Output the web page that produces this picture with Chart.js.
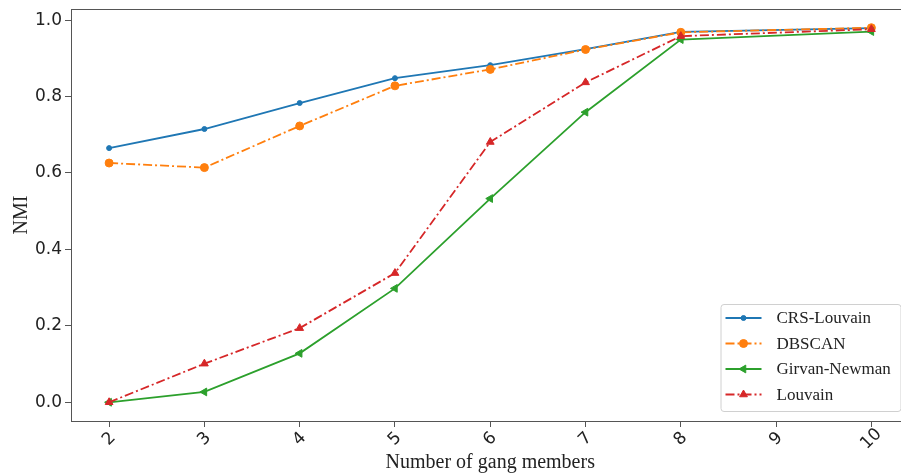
<!DOCTYPE html>
<html>
<head>
<meta charset="utf-8">
<script src="https://cdn.jsdelivr.net/npm/chart.js@4.4.1/dist/chart.umd.min.js"></script>
<style>
  html, body { margin: 0; padding: 0; background: #fff; }
  #wrap { width: 901px; height: 475px; overflow: hidden; position: relative; }
  #nmi-chart { display: block; }
</style>
</head>
<body>
<div id="wrap"><canvas id="nmi-chart" width="915" height="475"></canvas></div>
<script>
// gang sizes that were evaluated (no run at 9)
const gangSizes = [2, 3, 4, 5, 6, 7, 8, 10];
const crsLouvain = [0.665, 0.715, 0.783, 0.848, 0.882, 0.924, 0.969, 0.979];
const dbscan = [0.626, 0.614, 0.723, 0.828, 0.871, 0.923, 0.968, 0.980];
const girvanNewman = [0.0, 0.027, 0.128, 0.298, 0.533, 0.759, 0.949, 0.970];
const louvain = [0.0, 0.101, 0.194, 0.338, 0.681, 0.837, 0.958, 0.976];

const xTicks = [2, 3, 4, 5, 6, 7, 8, 9, 10];
const yTicks = [0.0, 0.2, 0.4, 0.6, 0.8, 1.0];

const toPoints = (ys) => gangSizes.map((x, i) => ({ x: x, y: ys[i] }));
const dashDot = [9, 3, 2, 3];

const series = [
  { label: "CRS-Louvain", data: crsLouvain, color: "#1f77b4", dash: [], style: "circle", radius: 2.5, rotation: 0 },
  { label: "DBSCAN", data: dbscan, color: "#ff7f0e", dash: dashDot, style: "circle", radius: 4, rotation: 0 },
  { label: "Girvan-Newman", data: girvanNewman, color: "#2ca02c", dash: [], style: "triangle", radius: 4.5, rotation: -90 },
  { label: "Louvain", data: louvain, color: "#d62728", dash: dashDot, style: "triangle", radius: 4.5, rotation: 0 },
];

const textColor = "#222";
const spineColor = "#555";

// frame on all four sides + x tick labels centred and rotated like matplotlib
const framePlugin = {
  id: "frame",
  afterDraw(chart) {
    const { ctx, chartArea: a, scales } = chart;
    ctx.save();
    ctx.strokeStyle = spineColor;
    ctx.lineWidth = 1;
    ctx.strokeRect(a.left + 0.5, a.top + 0.5, a.right - a.left, a.bottom - a.top);

    ctx.fillStyle = textColor;
    ctx.font = "17px 'DejaVu Sans'";
    ctx.textAlign = "center";
    ctx.textBaseline = "middle";
    xTicks.forEach((v) => {
      const px = scales.x.getPixelForValue(v);
      ctx.save();
      ctx.translate(px, a.bottom + 18);
      ctx.rotate(-Math.PI / 4);
      ctx.fillText(String(v), 0, 0);
      ctx.restore();
    });
    ctx.restore();
  },
};

// legend box in the lower right corner of the axes
const legendPlugin = {
  id: "insideLegend",
  afterDraw(chart) {
    const { ctx, chartArea: a } = chart;
    const boxW = 180, boxH = 107;
    const bx = a.right - 9 - boxW, by = a.bottom - 10 - boxH;
    ctx.save();
    ctx.beginPath();
    ctx.roundRect(bx + 0.5, by + 0.5, boxW, boxH, 3);
    ctx.fillStyle = "rgba(255,255,255,0.85)";
    ctx.fill();
    ctx.strokeStyle = "#d0d0d0";
    ctx.lineWidth = 1;
    ctx.stroke();

    ctx.font = "17px 'Liberation Serif'";
    ctx.textBaseline = "middle";
    ctx.textAlign = "left";
    series.forEach((s, i) => {
      const cy = by + 14 + i * 25.5;
      const x0 = bx + 5, x1 = bx + 41;
      ctx.strokeStyle = s.color;
      ctx.lineWidth = 1.8;
      ctx.setLineDash(s.dash);
      ctx.beginPath();
      ctx.moveTo(x0, cy);
      ctx.lineTo(x1, cy);
      ctx.stroke();
      ctx.setLineDash([]);
      ctx.lineWidth = 1;
      ctx.fillStyle = s.color;
      Chart.helpers.drawPoint(ctx, { pointStyle: s.style, radius: s.radius, rotation: s.rotation, borderWidth: 1 }, (x0 + x1) / 2, cy);
      ctx.fillStyle = textColor;
      ctx.fillText(s.label, bx + 56, cy + 1);
    });
    ctx.restore();
  },
};

const ctx = document.getElementById("nmi-chart").getContext("2d");

new Chart(ctx, {
  type: "line",
  data: {
    datasets: series.map((s, i) => ({
      label: s.label,
      data: toPoints(s.data),
      borderColor: s.color,
      backgroundColor: s.color,
      borderWidth: 1.8,
      borderDash: s.dash,
      pointStyle: s.style,
      pointRadius: s.radius,
      pointRotation: s.rotation,
      pointBackgroundColor: s.color,
      pointBorderColor: s.color,
      pointBorderWidth: 1,
      tension: 0,
      fill: false,
      order: series.length - i,
    })),
  },
  options: {
    responsive: false,
    animation: false,
    events: [],
    layout: { padding: { top: 9, right: 4, left: 0, bottom: 0 } },
    plugins: {
      legend: { display: false },
      tooltip: { enabled: false },
    },
    scales: {
      x: {
        type: "linear",
        min: 1.6,
        max: 10.4,
        afterBuildTicks: (axis) => { axis.ticks = xTicks.map((v) => ({ value: v })); },
        afterFit: (axis) => { axis.height = 54; axis.paddingLeft = 0; axis.paddingRight = 0; },
        border: { display: false },
        grid: { drawOnChartArea: false, drawTicks: true, tickLength: 6, color: spineColor },
        ticks: { display: false },
        title: {
          display: true,
          text: "Number of gang members",
          color: textColor,
          font: { family: "'Liberation Serif'", size: 20, lineHeight: 1.2 },
          padding: { top: 0, bottom: 0 },
        },
      },
      y: {
        type: "linear",
        min: -0.049,
        max: 1.029,
        afterBuildTicks: (axis) => { axis.ticks = yTicks.map((v) => ({ value: v })); },
        afterFit: (axis) => { axis.width = 71; axis.paddingTop = 0; axis.paddingBottom = 0; },
        border: { display: false },
        grid: { drawOnChartArea: false, drawTicks: true, tickLength: 6, color: spineColor },
        ticks: {
          color: textColor,
          padding: 3,
          font: { family: "'DejaVu Sans'", size: 17 },
          callback: (v) => Number(v).toFixed(1),
        },
        title: {
          display: true,
          text: "NMI",
          color: textColor,
          font: { family: "'Liberation Serif'", size: 20, lineHeight: 1.2 },
          padding: { top: 10, bottom: 0 },
        },
      },
    },
  },
  plugins: [framePlugin, legendPlugin],
});
</script>
</body>
</html>
